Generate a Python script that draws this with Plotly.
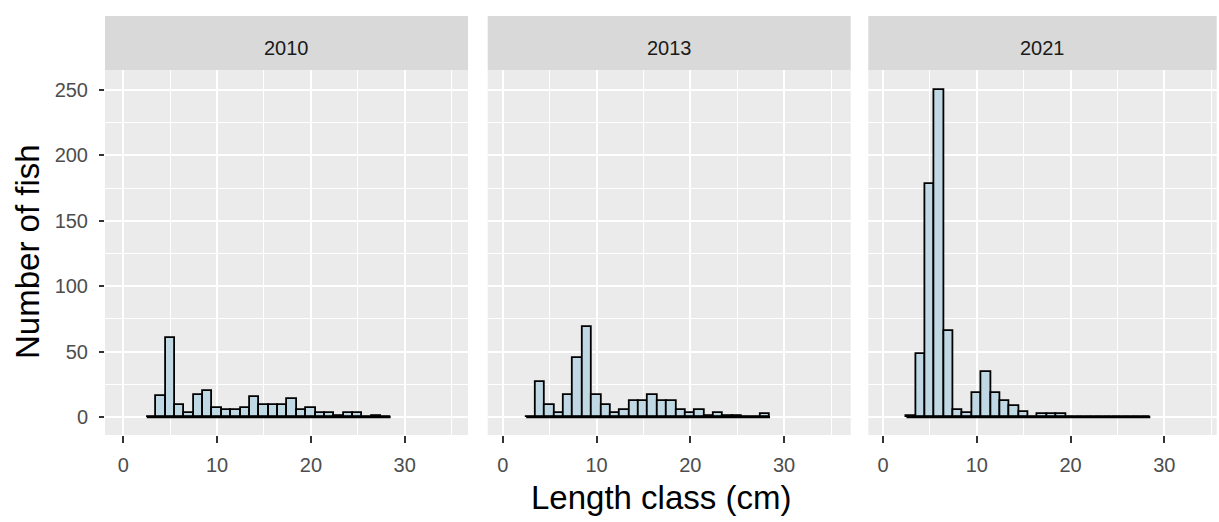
import plotly.graph_objects as go

# ---- data ----
years = ["2010", "2013", "2021"]
length_bins = list(range(3, 29))  # bin centres (cm), binwidth 1
counts_2010 = [0, 16, 60, 9, 3, 17, 20, 7, 5, 5, 7, 15, 9, 9, 9, 14, 5, 7, 3, 3, 1, 3, 3, 0, 1, 0]
counts_2013 = [0, 27, 9, 3, 17, 45, 69, 17, 9, 3, 5, 12, 12, 17, 12, 12, 5, 3, 5, 1, 3, 1, 1, 0, 0, 2]
counts_2021 = [1, 48, 178, 250, 66, 5, 3, 18, 34, 18, 12, 8, 4, 0, 2, 2, 2, 0, 0, 0, 0, 0, 0, 0, 0, 0]
x_ticks = [0, 10, 20, 30]
y_ticks = [0, 50, 100, 150, 200, 250]

series = [counts_2010, counts_2013, counts_2021]

W, H = 1219, 522
ml, mr, mt, mb = 105, 2, 16, 87
pw = W - ml - mr
ph = H - mt - mb

def fx(px):
    return (px - ml) / pw

def fy(py):
    return 1 - (py - mt) / ph

panel_px = [(105, 468), (487.7, 850.7), (868.3, 1216.7)]
xranges = [[-1.95, 36.75], [-1.6, 37.1], [-1.57, 35.58]]
panel_top, panel_bot = 70, 435
yrange = [-13.8, 265.3]

fill = "#BFD8E3"
font_family = "Liberation Sans, Arial, sans-serif"
fig = go.Figure()

for i, (yr, cnt) in enumerate(zip(years, series)):
    xa = "x" if i == 0 else f"x{i+1}"
    ya = "y" if i == 0 else f"y{i+1}"
    # baseline (zero-height bins drawn as outline)
    fig.add_trace(go.Scatter(
        x=[length_bins[0] - 0.5, length_bins[-1] + 0.5], y=[0, 0],
        mode="lines", line=dict(color="black", width=2.6),
        xaxis=xa, yaxis=ya, showlegend=False, hoverinfo="skip"))
    fig.add_trace(go.Bar(
        x=length_bins, y=cnt, width=1,
        marker=dict(color=fill, line=dict(color="black", width=1.8)),
        xaxis=xa, yaxis=ya, showlegend=False, name=yr))

tickfont = dict(family=font_family, size=20, color="#4D4D4D")
layout = dict(
    width=W, height=H,
    margin=dict(l=ml, r=mr, t=mt, b=mb, pad=0),
    paper_bgcolor="white", plot_bgcolor="#EBEBEB",
    bargap=0, barmode="overlay",
)

shapes = []
annotations = []
for i in range(3):
    x0, x1 = panel_px[i]
    key = "" if i == 0 else str(i + 1)
    layout["xaxis" + key] = dict(
        domain=[fx(x0), fx(x1)], range=xranges[i], anchor="y" + key,
        tickvals=x_ticks, ticktext=[str(t) for t in x_ticks],
        showgrid=True, gridcolor="white", gridwidth=2,
        minor=dict(dtick=5, tick0=0, showgrid=True, gridcolor="white", gridwidth=1, ticklen=0),
        zeroline=False, showline=False,
        ticks="outside", ticklen=7, tickwidth=1.6, tickcolor="#333333",
        tickfont=tickfont, ticklabelstandoff=5, automargin=False,
    )
    layout["yaxis" + key] = dict(
        domain=[fy(panel_bot), fy(panel_top)], range=yrange, anchor="x" + key,
        tickvals=y_ticks, ticktext=[str(t) for t in y_ticks],
        showgrid=True, gridcolor="white", gridwidth=2,
        minor=dict(dtick=25, tick0=0, showgrid=True, gridcolor="white", gridwidth=1, ticklen=0),
        zeroline=False, showline=False,
        ticks="outside" if i == 0 else "", ticklen=5, tickwidth=1.6, tickcolor="#333333",
        showticklabels=(i == 0), tickfont=tickfont, ticklabelstandoff=7, automargin=False,
    )
    # strip
    shapes.append(dict(type="rect", xref="paper", yref="paper",
                       x0=fx(x0), x1=fx(x1), y0=fy(panel_top), y1=fy(16),
                       fillcolor="#D9D9D9", line=dict(width=0), layer="below"))
    annotations.append(dict(text=years[i], xref="paper", yref="paper",
                            x=(fx(x0) + fx(x1)) / 2, y=fy(48),
                            showarrow=False, xanchor="center", yanchor="middle",
                            font=dict(family=font_family, size=20, color="#1A1A1A")))

annotations.append(dict(text="Length class (cm)", xref="paper", yref="paper",
                        x=fx(661), y=fy(497), showarrow=False, xanchor="center", yanchor="middle",
                        font=dict(family=font_family, size=33, color="black")))
annotations.append(dict(text="Number of fish", xref="paper", yref="paper",
                        x=fx(27), y=fy(252), showarrow=False, xanchor="center", yanchor="middle",
                        textangle=-90,
                        font=dict(family=font_family, size=33, color="black")))

layout["shapes"] = shapes
layout["annotations"] = annotations
fig.update_layout(**layout)
fig.write_html(
    "out.html",
    config={"displayModeBar": False},
    post_script="document.body.style.margin='0';document.body.style.overflow='hidden';",
)
